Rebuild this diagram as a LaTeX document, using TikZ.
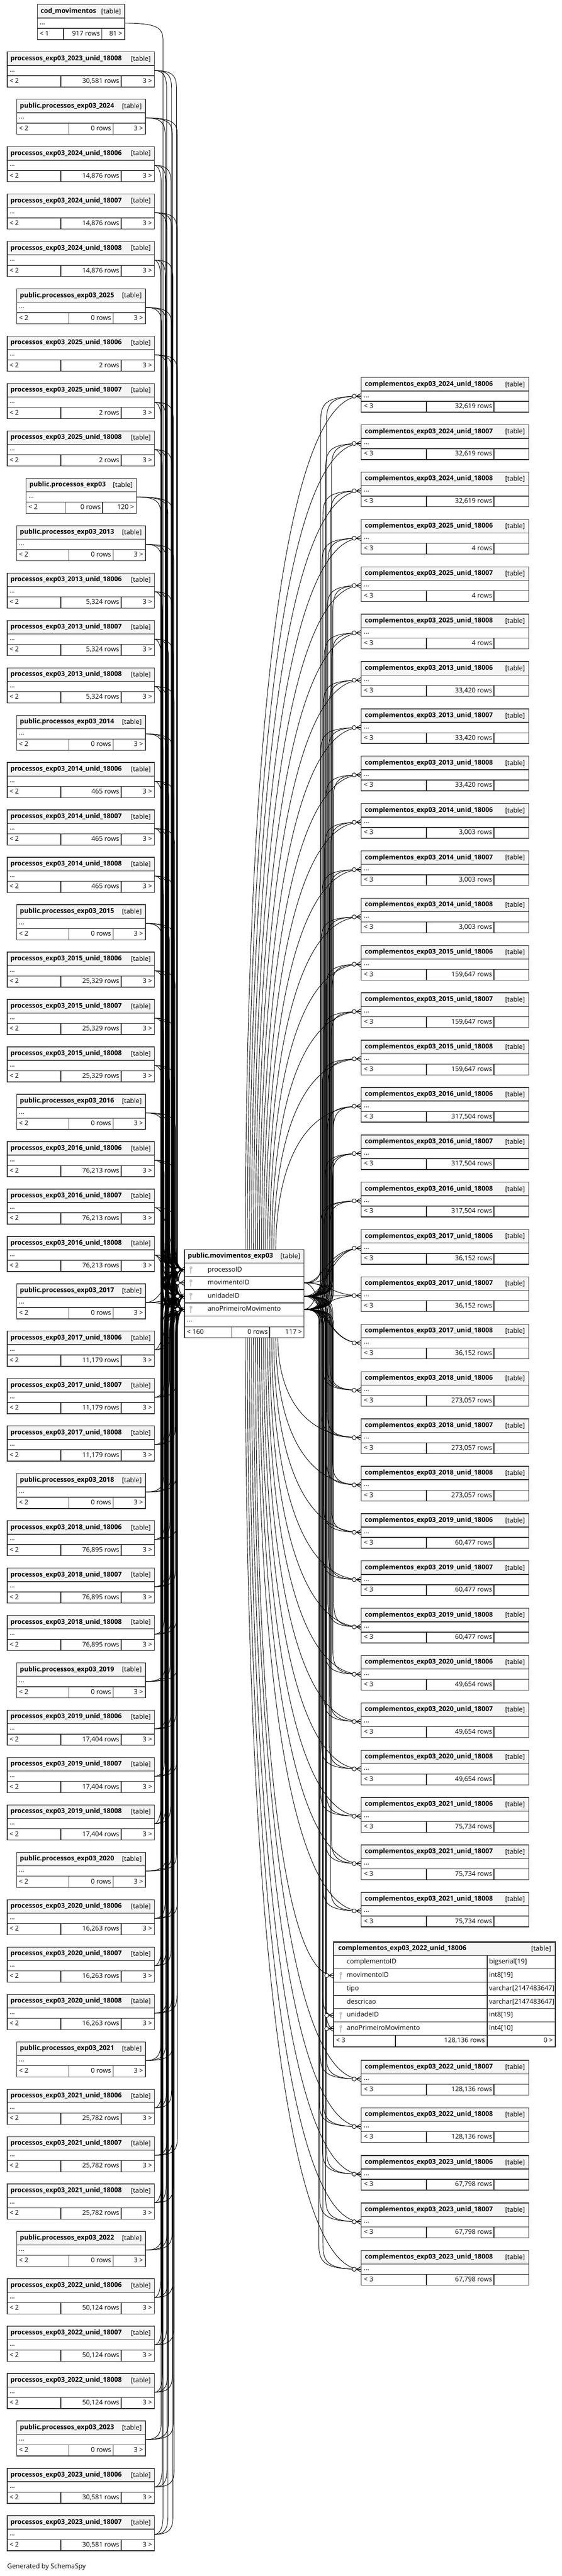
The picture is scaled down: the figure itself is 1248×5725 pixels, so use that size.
\documentclass[tikz,border=0pt]{standalone}
\usepackage{fontspec}
\setmainfont{Open Sans}
\pgfdeclarelayer{back}
\pgfdeclarelayer{bg}
\pgfsetlayers{back,bg,main}
\definecolor{hdr}{HTML}{F4F4F4}
\definecolor{bord}{HTML}{303030}
\definecolor{keyc}{HTML}{BEBEBE}
\tikzset{
  cellbox/.style={draw=bord, line width=1.2pt, fill=white},
  hdrcell/.style={draw=bord, line width=1.2pt, fill=hdr},
  tbname/.style={anchor=west, inner sep=0pt, text height=8pt, text depth=2.2pt, font=\fontsize{11}{13}\selectfont\bfseries},
  tbtag/.style={anchor=east, inner sep=0pt, text height=8pt, text depth=2.2pt, font=\fontsize{11}{13}\selectfont},
  txtL/.style={anchor=west, inner sep=0pt, text height=8pt, text depth=2.2pt, font=\fontsize{11}{13}\selectfont},
  txtR/.style={anchor=east, inner sep=0pt, text height=8pt, text depth=2.2pt, font=\fontsize{11}{13}\selectfont},
  conn/.style={draw=black, line width=0.8pt},
  mkr/.style={draw=black, line width=0.8pt},
}
% left table: #1 index, #2 xl, #3 xr, #4 s1, #5 s2, #6 name, #7 rows, #8 left count, #9 right count
\newcommand\ltab[9]{%
  \pgfmathtruncatemacro\qI{#1}%
  \pgfmathsetmacro\qT{10+105.3*\qI}%
  \pgfmathsetmacro\qTa{\qT+30}%
  \pgfmathsetmacro\qTb{\qT+53}%
  \pgfmathsetmacro\qTc{\qT+78}%
  \path[hdrcell] (#2,\qT) rectangle (#3,\qTa);
  \path[cellbox] (#2,\qTa) rectangle (#3,\qTb);
  \path[cellbox] (#2,\qTb) rectangle (#4,\qTc);
  \path[cellbox] (#4,\qTb) rectangle (#5,\qTc);
  \path[cellbox] (#5,\qTb) rectangle (#3,\qTc);
  \node[tbname] (L\qI-t) at (#2+7,\qT+15) {#6};
  \node[tbtag] (L\qI-g) at (#3-8,\qT+16) {[table]};
  \node[txtL] (L\qI-d) at (#2+5,\qT+40) {...};
  \node[txtL] (L\qI-a) at (#2+5,\qTb+12.5) {#8};
  \node[txtR] (L\qI-r) at (#5-4,\qTb+12.5) {#7};
  \node[txtR] (L\qI-b) at (#3-5,\qTb+12.5) {#9};
  \coordinate (L\qI-o) at (#3,\qT+41.5);
}
\newcommand\ltB[3]{\ltab{#1}{16}{343}{135}{269}{#2}{#3}{< 2}{3 >}}
\newcommand\ltC[2]{\ltab{#1}{37}{323}{153}{251}{public.processos\_exp03\_#2}{0 rows}{< 2}{3 >}}
% right table: #1 j, #2 top, #3 name, #4 rows
\newcommand\rtab[4]{%
  \pgfmathtruncatemacro\qJ{#1}%
  \pgfmathsetmacro\qT{#2}%
  \pgfmathsetmacro\qTa{\qT+30}%
  \pgfmathsetmacro\qTb{\qT+53}%
  \pgfmathsetmacro\qTc{\qT+77}%
  \path[hdrcell] (802,\qT) rectangle (1174,\qTa);
  \path[cellbox] (802,\qTa) rectangle (1174,\qTb);
  \path[cellbox] (802,\qTb) rectangle (947,\qTc);
  \path[cellbox] (947,\qTb) rectangle (1097,\qTc);
  \path[cellbox] (1097,\qTb) rectangle (1174,\qTc);
  \node[tbname] (R\qJ-t) at (810,\qT+15) {#3};
  \node[tbtag] (R\qJ-g) at (1166,\qT+16) {[table]};
  \node[txtL] (R\qJ-d) at (808,\qT+40) {...};
  \node[txtL] (R\qJ-a) at (808,\qTb+12) {< 3};
  \node[txtR] (R\qJ-r) at (1093,\qTb+12) {#4};
  \coordinate (R\qJ-i) at (802,\qT+41.5);
}
% connector through a bundle: #1 from, #2 to, #3 y0, #4 y1, #5 bundle x
\newcommand\bundle[5]{%
  \pgfmathsetmacro\qdy{#4-#3}%
  \pgfmathtruncatemacro\nearq{abs(\qdy)<140 ? 1 : 0}%
  \ifnum\nearq=1
    \draw[conn] (#1) .. controls (#5,#3) and (#5,#4) .. (#2);
  \else
    \pgfmathsetmacro\qsg{\qdy>0 ? 1 : -1}%
    \pgfmathsetmacro\qya{#3+\qsg*12}%
    \pgfmathsetmacro\qyb{#3+\qsg*40}%
    \pgfmathsetmacro\qyc{#4-\qsg*60}%
    \pgfmathsetmacro\qyd{#4-\qsg*18}%
    \pgfmathsetmacro\qxa{#5-8}%
    \pgfmathsetmacro\qxd{#5+6}%
    \draw[conn] (#1) .. controls (\qxa,#3) and (#5,\qya) .. (#5,\qyb) -- (#5,\qyc) .. controls (#5,\qyd) and (\qxd,#4) .. (#2);
  \fi
}
% connector leaving the top/bottom of the central table: #1 from, #2 to, #3 xs, #4 ys, #5 y1, #6 X
\newcommand\vroute[6]{%
  \pgfmathsetmacro\qvm{(#4+#5)/2}%
  \pgfmathsetmacro\qvx{#3+0.25*(#6-#3)}%
  \draw[conn] (#1) .. controls (#3,\qvm) and (\qvx,#5) .. (#2);
}
\newcommand\crowmk[2]{%
  \draw[mkr] (#1-11,#2) -- (#1,#2-6) (#1-11,#2) -- (#1,#2+6) (#1-11,#2) -- (#1,#2);
  \draw[mkr, fill=white] (#1-15.5,#2) circle (4.5);
}
\newcommand\keyic[2]{%
  \fill[keyc] (#1,#2-4.5) circle (3.2);
  \fill[keyc] (#1-1.2,#2-3) rectangle (#1+1.2,#2+8);
  \fill[white] (#1,#2-4.8) circle (1);
}
\begin{document}
\begin{tikzpicture}[x=0.75pt,y=-0.75pt]
\useasboundingbox (0,0) rectangle (1248,5725);
\begin{pgfonlayer}{back}
\fill[white] (0,0) rectangle (1248,5725);
\end{pgfonlayer}

% ---------------- left column ----------------
\ltab{0}{83}{277}{141}{226}{cod\_movimentos}{917 rows}{< 1}{81 >}
\ltB{1}{processos\_exp03\_2023\_unid\_18008}{30{,}581 rows}
\ltC{2}{2024}
\ltB{3}{processos\_exp03\_2024\_unid\_18006}{14{,}876 rows}
\ltB{4}{processos\_exp03\_2024\_unid\_18007}{14{,}876 rows}
\ltB{5}{processos\_exp03\_2024\_unid\_18008}{14{,}876 rows}
\ltC{6}{2025}
\ltB{7}{processos\_exp03\_2025\_unid\_18006}{2 rows}
\ltB{8}{processos\_exp03\_2025\_unid\_18007}{2 rows}
\ltB{9}{processos\_exp03\_2025\_unid\_18008}{2 rows}
\ltab{10}{58}{303}{145}{228}{public.processos\_exp03}{0 rows}{< 2}{120 >}
\foreach \yr/\rw [count=\k from 0] in {2013/5{,}324, 2014/465, 2015/25{,}329, 2016/76{,}213, 2017/11{,}179, 2018/76{,}895, 2019/17{,}404, 2020/16{,}263, 2021/25{,}782, 2022/50{,}124} {
  \pgfmathtruncatemacro\qb{11+4*\k}
  \ltC{\qb}{\yr}
  \pgfmathtruncatemacro\qb{12+4*\k}
  \ltB{\qb}{processos\_exp03\_\yr\_unid\_18006}{\rw{} rows}
  \pgfmathtruncatemacro\qb{13+4*\k}
  \ltB{\qb}{processos\_exp03\_\yr\_unid\_18007}{\rw{} rows}
  \pgfmathtruncatemacro\qb{14+4*\k}
  \ltB{\qb}{processos\_exp03\_\yr\_unid\_18008}{\rw{} rows}
}
\ltC{51}{2023}
\ltB{52}{processos\_exp03\_2023\_unid\_18006}{30{,}581 rows}
\ltB{53}{processos\_exp03\_2023\_unid\_18007}{30{,}581 rows}

% ---------------- central table ----------------
\path[hdrcell] (410,2777) rectangle (675,2807);
\path[cellbox] (410,2807) rectangle (675,2836.5);
\path[cellbox] (410,2836.5) rectangle (675,2866);
\path[cellbox] (410,2866) rectangle (675,2895.5);
\path[cellbox] (410,2895.5) rectangle (675,2925);
\path[cellbox] (410,2925) rectangle (675,2949);
\path[cellbox] (410,2949) rectangle (515,2973);
\path[cellbox] (515,2949) rectangle (599,2973);
\path[cellbox] (599,2949) rectangle (675,2973);
\node[tbname] (C-t) at (417,2792) {public.movimentos\_exp03};
\node[tbtag] (C-g) at (667,2793) {[table]};
\node[txtL] (C-c1) at (461,2822) {processoID};
\node[txtL] (C-c2) at (461,2851) {movimentoID};
\node[txtL] (C-c3) at (461,2880.7) {unidadeID};
\node[txtL] (C-c4) at (461,2910) {anoPrimeiroMovimento};
\node[txtL] (C-d) at (415,2934) {...};
\node[txtL] (C-fa) at (415,2961) {< 160};
\node[txtR] (C-fr) at (595,2961) {0 rows};
\node[txtR] (C-fb) at (671,2961) {117 >};
\keyic{424}{2822}
\keyic{424}{2851}
\keyic{424}{2880.7}
\keyic{424}{2910}
\coordinate (C-p) at (410,2822);
\coordinate (C-m) at (410,2851);
\coordinate (C-u) at (410,2880.7);
\coordinate (C-a) at (410,2910);
\coordinate (C-me) at (675,2851);
\coordinate (C-ue) at (675,2880.7);
\coordinate (C-ae) at (675,2910);

% ---------------- right column ----------------
\foreach \yr/\rw [count=\k from 0] in {2024/32{,}619, 2025/4, 2013/33{,}420, 2014/3{,}003, 2015/159{,}647, 2016/317{,}504, 2017/36{,}152, 2018/273{,}057, 2019/60{,}477, 2020/49{,}654, 2021/75{,}734, 2022/128{,}136, 2023/67{,}798} {
  \foreach \u [count=\v from 0] in {18006,18007,18008} {
    \pgfmathtruncatemacro\qj{3*\k+\v}
    \ifnum\qj=33 \else
      \ifnum\qj<33 \pgfmathsetmacro\qtp{839+105.2*\qj}\else\pgfmathsetmacro\qtp{4579+105.7*(\qj-34)}\fi
      \rtab{\qj}{\qtp}{complementos\_exp03\_\yr\_unid\_\u}{\rw{} rows}
    \fi
  }
}
% big table complementos_exp03_2022_unid_18006
\path[hdrcell] (741,4316) rectangle (1233,4346);
\foreach \nm/\tp [count=\r from 0] in {complementoID/bigserial[19], movimentoID/int8[19], tipo/varchar[2147483647], descricao/varchar[2147483647], unidadeID/int8[19], anoPrimeiroMovimento/int4[10]} {
  \pgfmathsetmacro\qy{4346+29.5*\r}
  \path[cellbox] (741,\qy) rectangle (1082,\qy+29.5);
  \path[cellbox] (1082,\qy) rectangle (1233,\qy+29.5);
  \node[txtL] (G-n\r) at (770,\qy+14.75) {\nm};
  \node[txtL] (G-y\r) at (1086,\qy+14.75) {\tp};
}
\path[cellbox] (741,4523) rectangle (878,4549);
\path[cellbox] (878,4523) rectangle (1082,4549);
\path[cellbox] (1082,4523) rectangle (1233,4549);
\draw[draw=bord, line width=2.2pt] (741,4316) rectangle (1233,4549);
\node[tbname] (G-t) at (751,4331) {complementos\_exp03\_2022\_unid\_18006};
\node[tbtag] (G-g) at (1224,4332) {[table]};
\node[txtL] (G-fa) at (746,4536) {< 3};
\node[txtR] (G-fr) at (1077,4536) {128{,}136 rows};
\node[txtR] (G-fb) at (1228,4536) {0 >};
\keyic{757}{4390.5}
\keyic{757}{4479}
\keyic{757}{4508.5}
\coordinate (R33-m) at (741,4390.5);
\coordinate (R33-u) at (741,4479);
\coordinate (R33-a) at (741,4508.5);

\node[txtL] (gen) at (16,5705) {Generated by SchemaSpy};

% ---------------- connectors ----------------
\begin{pgfonlayer}{bg}
\bundle{L0-o}{C-m}{51.5}{2851}{362}
\foreach \i in {1,...,53} {
  \pgfmathsetmacro\qyo{10+105.3*\i+41.5}
  \foreach \tg/\ty/\r in {C-p/2822/0, C-u/2880.7/1, C-a/2910/2} {
    \pgfmathsetmacro\qbx{357+mod(13*\i+11*\r,38)}
    \bundle{L\i-o}{\tg}{\qyo}{\ty}{\qbx}
  }
}
\foreach \j in {0,...,38} {
  \ifnum\j=33 \else
    \ifnum\j<33 \pgfmathsetmacro\qyt{839+105.2*\j+41.5}\else\pgfmathsetmacro\qyt{4579+105.7*(\j-34)+41.5}\fi
    \pgfmathsetmacro\qbxa{712+mod(11*\j,30)}
    \pgfmathsetmacro\qbxb{712+mod(11*\j+13,30)}
    \ifnum\j>33 \pgfmathsetmacro\qbxa{706+mod(7*\j,22)}\pgfmathsetmacro\qbxb{706+mod(7*\j+9,22)}\fi
    \bundle{C-ue}{R\j-i}{2880.7}{\qyt}{\qbxa}
    \bundle{C-ae}{R\j-i}{2910}{\qyt}{\qbxb}
    \ifnum\j<16
      \pgfmathsetmacro\qxs{545+4.5*\j}
      \coordinate (T\j) at (\qxs,2777);
      \vroute{T\j}{R\j-i}{\qxs}{2777}{\qyt}{802}
    \else\ifnum\j<22
      \pgfmathsetmacro\qbxc{712+mod(11*\j+23,30)}
      \bundle{C-me}{R\j-i}{2851}{\qyt}{\qbxc}
    \else
      \pgfmathsetmacro\qxs{545+4.5*(38-\j)}
      \coordinate (B\j) at (\qxs,2973);
      \vroute{B\j}{R\j-i}{\qxs}{2973}{\qyt}{802}
    \fi\fi
  \fi
}
\bundle{C-ue}{R33-u}{2880.7}{4479}{716}
\bundle{C-ae}{R33-a}{2910}{4508.5}{723}
\coordinate (B33) at (567.5,2973);
\vroute{B33}{R33-m}{567.5}{2973}{4390.5}{741}
\end{pgfonlayer}

% ---------------- markers ----------------
\crowmk{410}{2822}
\crowmk{410}{2851}
\crowmk{410}{2880.7}
\crowmk{410}{2910}
\foreach \j in {0,...,32} {\pgfmathsetmacro\qyt{839+105.2*\j+41.5}\crowmk{802}{\qyt}}
\foreach \j in {34,...,38} {\pgfmathsetmacro\qyt{4579+105.7*(\j-34)+41.5}\crowmk{802}{\qyt}}
\crowmk{741}{4390.5}
\crowmk{741}{4479}
\crowmk{741}{4508.5}
\end{tikzpicture}
\end{document}
